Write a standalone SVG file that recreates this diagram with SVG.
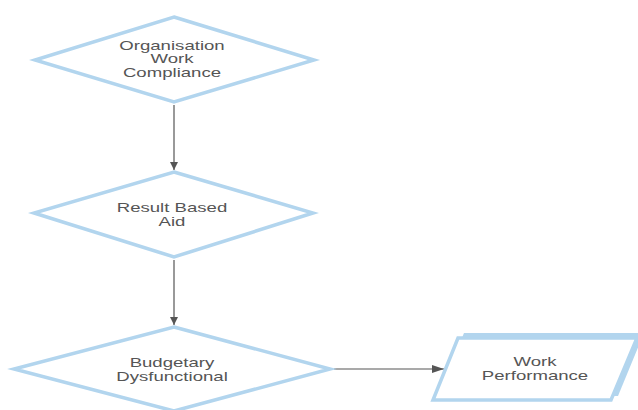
<svg xmlns="http://www.w3.org/2000/svg" width="638" height="410" viewBox="0 0 638 410">
<defs>
<style>
.shape{fill:#ffffff;stroke:#b2d5ee;stroke-width:3.5;stroke-linejoin:miter}
.shadow{fill:#b2d5ee;stroke:none}
.lbl{font-family:"Liberation Sans",Arial,sans-serif;font-size:12px;fill:#555555;text-anchor:middle}
.conn{stroke:#555555;stroke-width:1.2;fill:none}
</style>
<marker id="arr" viewBox="0 0 10 10" refX="10" refY="5" markerWidth="8" markerHeight="8" markerUnits="userSpaceOnUse" orient="auto">
<path d="M0,0 L10,5 L0,10 z" fill="#555555"/>
</marker>
<marker id="arrh" viewBox="0 0 10 10" refX="10" refY="5" markerWidth="12" markerHeight="8" markerUnits="userSpaceOnUse" orient="auto" preserveAspectRatio="none">
<path d="M0,0 L10,5 L0,10 z" fill="#555555"/>
</marker>
</defs>
<rect width="638" height="410" fill="#ffffff"/>
<g id="connectors">
<line class="conn" x1="174" y1="105" x2="174" y2="170" marker-end="url(#arr)"/>
<line class="conn" x1="174" y1="260" x2="174" y2="325" marker-end="url(#arr)"/>
<line class="conn" x1="334" y1="369" x2="444" y2="369" marker-end="url(#arrh)"/>
</g>
<g id="node1">
<polygon class="shape" points="174,17 314,60 174,102 35,60"/>
<g class="lbl">
<text transform="matrix(1.55,0,0,1,172,49.5)">Organisation</text>
<text transform="matrix(1.55,0,0,1,172,63)">Work</text>
<text transform="matrix(1.55,0,0,1,172,77)">Compliance</text>
</g>
</g>
<g id="node2">
<polygon class="shape" points="174,172 313,213 174,257 34,213"/>
<g class="lbl">
<text transform="matrix(1.55,0,0,1,172,212)">Result Based</text>
<text transform="matrix(1.55,0,0,1,172,225.5)">Aid</text>
</g>
</g>
<g id="node3">
<polygon class="shape" points="174,327 330,369 174,411 14,369"/>
<g class="lbl">
<text transform="matrix(1.55,0,0,1,172,367)">Budgetary</text>
<text transform="matrix(1.55,0,0,1,172,380.5)">Dysfunctional</text>
</g>
</g>
<g id="node4">
<polygon class="shadow" points="464,333 644,333 618,396 438,396"/>
<polygon class="shape" points="458,338 637,338 611,400 433,400"/>
<g class="lbl">
<text transform="matrix(1.55,0,0,1,535,366)">Work</text>
<text transform="matrix(1.55,0,0,1,535,380)">Performance</text>
</g>
</g>
</svg>
